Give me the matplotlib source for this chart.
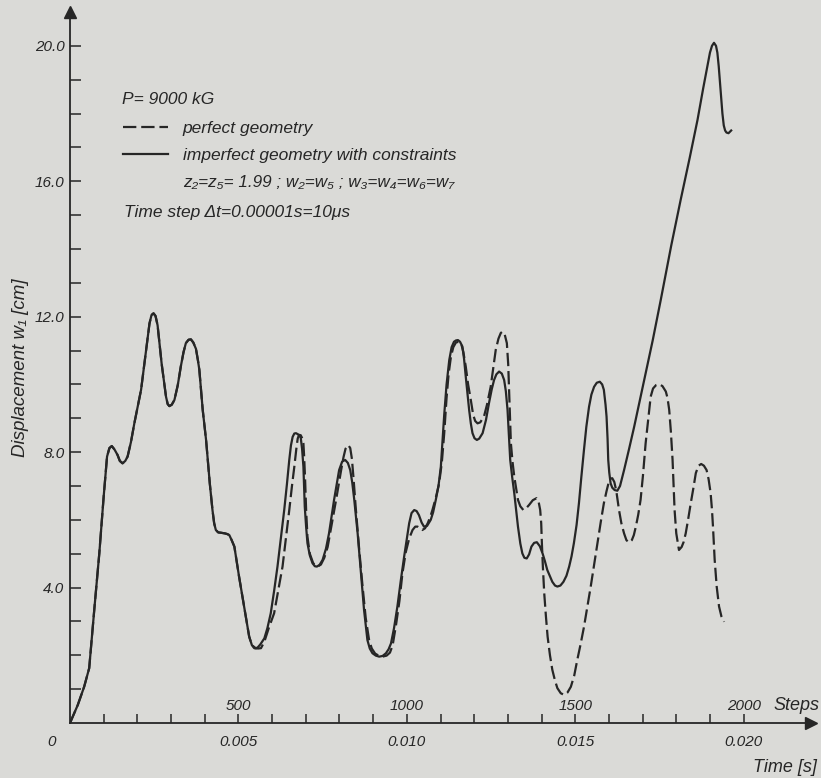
import matplotlib
matplotlib.use('Agg')
import matplotlib.pyplot as plt
from matplotlib.lines import Line2D
from matplotlib.ticker import FixedLocator

# fonts: narrow italic lettering if present, else Liberation Sans, DejaVu for missing glyphs
FONT = ['Liberation Sans Narrow', 'Liberation Sans', 'DejaVu Sans']
plt.rcParams['font.family'] = FONT
plt.rcParams['font.style'] = 'italic'

PAPER = '#dadad7'
INK = '#262626'

timestep = 1e-5  # s per step

# --- data (steps, displacement w1 in cm) ---
# both runs coincide up to the first trough
shared_steps = [0, 23, 42, 57, 72, 87, 100, 110, 117, 124, 132, 141, 148, 156, 164, 171, 181, 191,
                211, 226, 236, 242, 248, 254, 260, 266, 272, 285, 290, 295, 302, 310, 320, 329,
                337, 344, 352, 359, 366, 374, 380, 384, 394, 404, 415, 423, 428, 433, 440, 448,
                460, 467, 473, 480, 488, 502, 517, 532, 540]
shared_vals = [0, 0.53, 1.07, 1.62, 3.34, 5.01, 6.69, 7.87, 8.12, 8.18, 8.08, 7.92, 7.74, 7.67, 7.74,
               7.87, 8.3, 8.85, 9.84, 11.02, 11.8, 12.05, 12.1, 12.02, 11.75, 11.2, 10.62, 9.64,
               9.42, 9.36, 9.4, 9.54, 9.98, 10.53, 10.95, 11.22, 11.32, 11.33, 11.24, 11.05, 10.7,
               10.43, 9.25, 8.36, 7.08, 6.29, 5.9, 5.7, 5.63, 5.62, 5.6, 5.58, 5.55, 5.4, 5.21,
               4.32, 3.44, 2.55, 2.3]

imperfect_steps = [547, 552, 558, 565, 577, 586, 596, 606, 616, 626, 636, 644, 651, 656, 661, 666,
                   671, 678, 685, 689, 693, 697, 701, 705, 712, 720, 727, 733, 741, 750, 760, 769,
                   784, 799, 808, 817, 825, 832, 838, 844, 854, 864, 873, 883, 890, 898, 908, 918,
                   928, 938, 946, 953, 962, 972, 982, 992, 1000, 1007, 1014, 1022, 1029, 1036, 1044,
                   1051, 1060, 1071, 1078, 1086, 1094, 1101, 1111, 1118, 1126, 1133, 1140, 1146,
                   1152, 1158, 1165, 1170, 1175, 1185, 1190, 1195, 1201, 1208, 1215, 1225, 1235,
                   1244, 1252, 1259, 1266, 1274, 1282, 1289, 1294, 1299, 1303, 1307, 1313, 1319,
                   1330, 1337, 1343, 1349, 1356, 1363, 1370, 1378, 1386, 1395, 1403, 1410, 1417,
                   1432, 1440, 1447, 1456, 1465, 1474, 1482, 1489, 1496, 1504, 1511, 1518, 1526,
                   1533, 1541, 1548, 1556, 1564, 1573, 1580, 1585, 1590, 1593, 1596, 1598, 1601,
                   1605, 1610, 1617, 1625, 1633, 1645, 1660, 1675, 1704, 1730, 1754, 1785, 1813,
                   1840, 1863, 1880, 1892, 1900, 1906, 1912, 1918, 1922, 1926, 1930, 1934, 1937,
                   1941, 1945, 1949, 1955, 1963]
imperfect_vals = [2.21, 2.2, 2.24, 2.32, 2.5, 2.8, 3.24, 3.9, 4.62, 5.45, 6.29, 7.05, 7.77, 8.2,
                  8.45, 8.55, 8.56, 8.52, 8.43, 8.1, 7.57, 6.39, 5.8, 5.31, 4.95, 4.72, 4.63, 4.62,
                  4.67, 4.82, 5.15, 5.6, 6.59, 7.47, 7.72, 7.77, 7.68, 7.47, 7.1, 6.59, 5.6, 4.42,
                  3.34, 2.45, 2.2, 2.06, 1.99, 1.96, 1.98, 2.06, 2.18, 2.35, 2.8, 3.44, 4.2, 4.91,
                  5.45, 5.9, 6.2, 6.29, 6.26, 6.14, 5.92, 5.8, 5.82, 6.0, 6.22, 6.59, 7.0, 7.57,
                  9.1, 10.0, 10.72, 11.1, 11.26, 11.3, 11.31, 11.26, 11.12, 10.75, 10.23, 9.25,
                  8.85, 8.56, 8.41, 8.36, 8.4, 8.56, 8.95, 9.45, 9.85, 10.13, 10.3, 10.38, 10.32,
                  10.13, 9.8, 9.25, 8.5, 7.77, 7.25, 6.79, 5.8, 5.3, 5.01, 4.88, 4.86, 4.98, 5.21,
                  5.32, 5.34, 5.22, 5.01, 4.78, 4.52, 4.17, 4.06, 4.03, 4.06, 4.17, 4.35, 4.62,
                  4.92, 5.31, 5.85, 6.49, 7.25, 8.07, 8.75, 9.34, 9.7, 9.93, 10.05, 10.08, 10.0,
                  9.84, 9.4, 9.05, 8.4, 7.77, 7.4, 7.08, 6.95, 6.88, 6.86, 7.0, 7.47, 8.1, 8.75,
                  10.1, 11.3, 12.5, 14.1, 15.45, 16.7, 17.81, 18.75, 19.39, 19.8, 20.0, 20.09,
                  20.0, 19.8, 19.4, 18.9, 18.4, 18.0, 17.65, 17.5, 17.44, 17.42, 17.5]

perfect_steps = [550, 558, 567, 577, 590, 606, 618, 631, 641, 651, 659, 666, 672, 676, 680, 685,
                 690, 693, 695, 698, 701, 705, 712, 722, 735, 745, 755, 765, 775, 790, 805, 812,
                 818, 826, 832, 837, 842, 848, 858, 868, 878, 888, 896, 906, 918, 928, 940, 950,
                 958, 968, 978, 987, 997, 1007, 1017, 1025, 1032, 1040, 1046, 1054, 1062, 1070,
                 1076, 1086, 1096, 1104, 1111, 1118, 1124, 1131, 1138, 1146, 1155, 1162, 1168,
                 1175, 1182, 1190, 1197, 1203, 1210, 1218, 1229, 1238, 1249, 1257, 1264, 1272,
                 1279, 1284, 1290, 1297, 1301, 1304, 1307, 1309, 1314, 1319, 1325, 1330, 1337,
                 1346, 1354, 1363, 1374, 1385, 1391, 1396, 1399, 1401, 1404, 1408, 1413, 1418,
                 1425, 1432, 1440, 1447, 1457, 1467, 1477, 1487, 1497, 1506, 1516, 1526, 1536,
                 1546, 1556, 1566, 1576, 1585, 1593, 1600, 1605, 1610, 1616, 1622, 1630, 1637,
                 1645, 1652, 1660, 1668, 1674, 1680, 1687, 1694, 1701, 1709, 1717, 1724, 1731,
                 1740, 1749, 1759, 1769, 1774, 1779, 1784, 1789, 1795, 1800, 1808, 1816, 1822,
                 1828, 1835, 1843, 1851, 1858, 1866, 1874, 1882, 1890, 1896, 1902, 1906, 1909,
                 1914, 1920, 1927, 1934, 1942]
perfect_vals = [2.22, 2.2, 2.21, 2.4, 2.8, 3.24, 3.9, 4.62, 5.45, 6.29, 7.0, 7.57, 8.1, 8.4, 8.51,
                8.5, 8.4, 8.26, 7.9, 7.2, 6.3, 5.5, 5.0, 4.72, 4.62, 4.68, 4.88, 5.2, 5.75, 6.59,
                7.47, 7.85, 8.1, 8.21, 8.12, 7.8, 7.2, 6.4, 5.2, 4.1, 3.1, 2.45, 2.2, 2.05, 1.98,
                1.96, 1.99, 2.08, 2.3, 2.9, 3.6, 4.42, 5.05, 5.45, 5.7, 5.8, 5.8, 5.74, 5.7, 5.75,
                5.9, 6.1, 6.29, 6.65, 7.08, 7.7, 8.55, 9.6, 10.3, 10.82, 11.1, 11.24, 11.26,
                11.18, 10.95, 10.53, 10.0, 9.54, 9.1, 8.92, 8.85, 8.88, 9.05, 9.4, 9.93, 10.5,
                11.02, 11.35, 11.52, 11.56, 11.5, 11.22, 10.6, 9.74, 8.9, 8.26, 7.7, 7.28, 6.9,
                6.59, 6.4, 6.29, 6.34, 6.44, 6.58, 6.64, 6.55, 6.29, 5.9, 5.31, 4.6, 3.83, 3.15,
                2.55, 2.0, 1.57, 1.25, 1.03, 0.88, 0.83, 0.9, 1.07, 1.4, 1.86, 2.33, 2.84, 3.43,
                4.03, 4.67, 5.31, 5.95, 6.49, 6.85, 7.13, 7.22, 7.23, 7.12, 6.85, 6.29, 5.9, 5.6,
                5.4, 5.33, 5.4, 5.55, 5.8, 6.15, 6.59, 7.3, 8.26, 9.0, 9.64, 9.88, 9.98, 10.01,
                9.95, 9.79, 9.6, 9.25, 8.6, 7.77, 6.29, 5.6, 5.11, 5.2, 5.35, 5.6, 6.0, 6.49,
                6.95, 7.38, 7.6, 7.65, 7.6, 7.47, 7.2, 6.79, 6.3, 5.8, 4.82, 4.03, 3.44, 3.15,
                2.99]

step_ticks = [500, 1000, 1500, 2000]
time_ticks = [0.005, 0.010, 0.015, 0.020]
w_ticks = [4, 8, 12, 16, 20]

# --- figure ---
fig = plt.figure(figsize=(8.21, 7.78), dpi=100, facecolor=PAPER)
ax = fig.add_axes([70 / 821, 55 / 778, 741 / 821, 711 / 778])
ax.set_facecolor('none')
ax.set_xlim(0, 2200)
ax.set_ylim(0, 21)

ax.plot(shared_steps + perfect_steps, shared_vals + perfect_vals, color=INK, lw=1.6,
        dashes=(6, 2.2), label='perfect geometry')
ax.plot(shared_steps + imperfect_steps, shared_vals + imperfect_vals, color=INK, lw=1.6,
        label='imperfect geometry with constraints')

# axes with arrows
for side in ['top', 'right']:
    ax.spines[side].set_visible(False)
for side in ['left', 'bottom']:
    ax.spines[side].set_color(INK)
    ax.spines[side].set_linewidth(1.3)
ax.plot(1, 0, '>', color=INK, ms=9, transform=ax.transAxes, clip_on=False)
ax.plot(0, 1, '^', color=INK, ms=9, transform=ax.transAxes, clip_on=False)

# x: steps labelled above the axis, every 100 steps a tick
ax.xaxis.set_major_locator(FixedLocator(step_ticks))
ax.xaxis.set_minor_locator(FixedLocator(range(100, 2001, 100)))
ax.set_xticklabels([str(s) for s in step_ticks])
ax.tick_params(axis='x', which='both', direction='in', length=6.5, width=1.1, color=INK,
               pad=-17, labelsize=11, labelcolor=INK)

# time scale under the axis
sec = ax.secondary_xaxis('bottom', functions=(lambda s: s * timestep, lambda t: t / timestep))
sec.set_xticks(time_ticks)
sec.set_xticklabels(['%.3f' % t for t in time_ticks])
sec.tick_params(length=0, pad=9, labelsize=11, labelcolor=INK)
sec.spines['bottom'].set_visible(False)

# y ticks
ax.yaxis.set_major_locator(FixedLocator(w_ticks))
ax.yaxis.set_minor_locator(FixedLocator(range(1, 21)))
ax.set_yticklabels(['%.1f' % w for w in w_ticks])
ax.tick_params(axis='y', which='both', direction='in', length=8, width=1.1, color=INK,
               pad=4, labelsize=11, labelcolor=INK)
ax.set_ylabel('Displacement w\u2081 [cm]', fontsize=13.5, color=INK, labelpad=4)

fig.text(52 / 821, 1 - 742 / 778, '0', fontsize=11, color=INK, ha='center', va='center')
fig.text(796 / 821, 1 - 706 / 778, 'Steps', fontsize=13, color=INK, ha='center', va='center')
fig.text(785 / 821, 1 - 767 / 778, 'Time [s]', fontsize=13, color=INK, ha='center', va='center')

# legend block
handles, labels = ax.get_legend_handles_labels()
handles.append(Line2D([], [], color='none'))
labels.append('z\u2082=z\u2085= 1.99 ; w\u2082=w\u2085 ; w\u2083=w\u2084=w\u2086=w\u2087')
leg = fig.legend(handles, labels, loc='upper left', bbox_to_anchor=(123 / 821, 1 - 121 / 778),
                 frameon=False, borderpad=0, borderaxespad=0, handlelength=2.6,
                 handletextpad=0.85, labelspacing=0.68, labelcolor=INK,
                 prop={'family': FONT, 'style': 'italic', 'size': 12.5})
leg.get_texts()[2].set_fontsize(12.3)
fig.text(122 / 821, 1 - 99 / 778, 'P= 9000 kG', fontsize=12.5, color=INK, va='center')
fig.text(124 / 821, 1 - 212 / 778, 'Time step \u0394t=0.00001s=10\u03bcs', fontsize=12.5,
         color=INK, va='center')

fig.savefig('out.png', dpi=100, facecolor=PAPER)
